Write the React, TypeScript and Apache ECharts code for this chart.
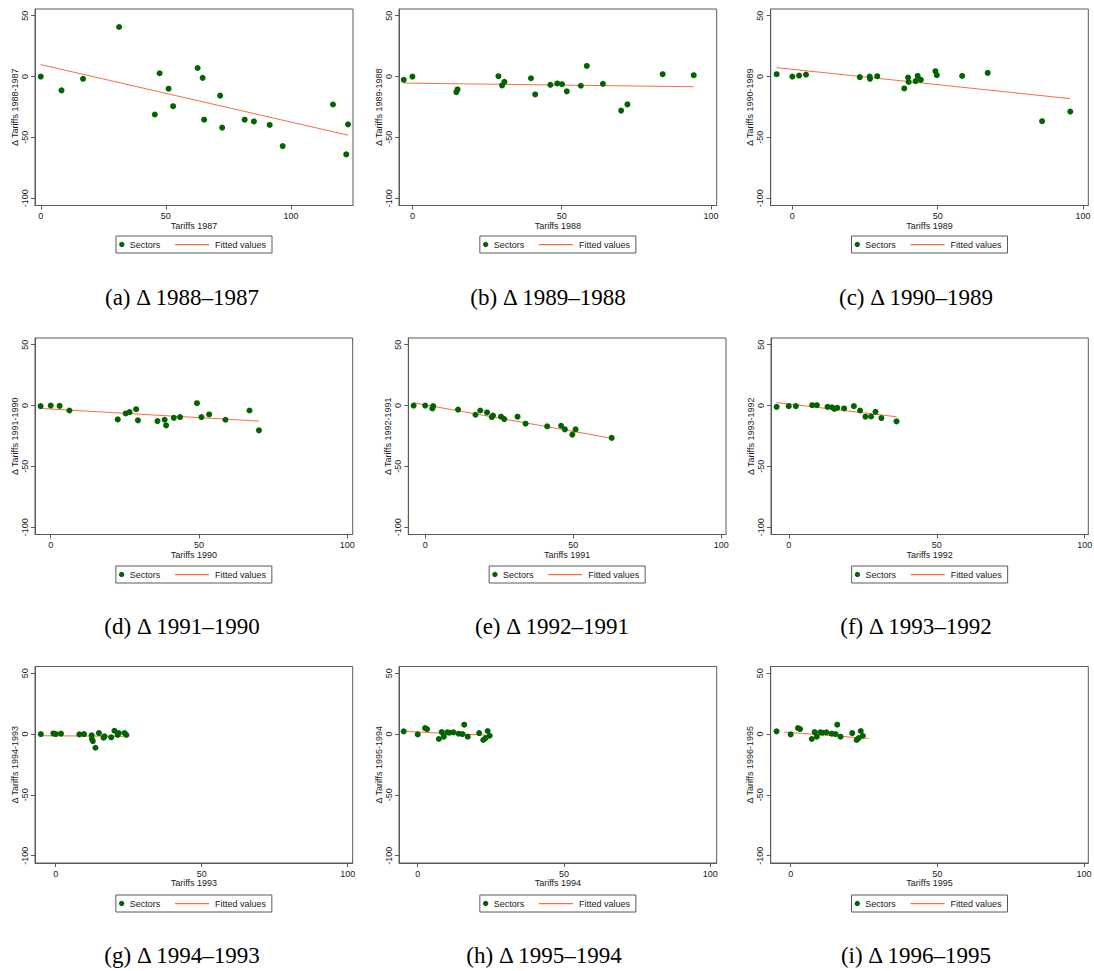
import React, { useEffect, useRef } from "react";
import * as echarts from "echarts";

// ---- tick labels ----
const xTicks = [0, 50, 100];
const yTicks = [-100, -50, 0, 50];

// ---- legend labels ----
const legendLabels = ["Sectors", "Fitted values"];

// ---- (a) 1988-1987 ----
const tariffs1987 = [0, 8.3, 16.9, 31.3, 45.6, 47.5, 51.1, 52.9, 62.7, 64.7, 65.3, 71.7, 72.5, 81.5, 85.2, 91.5, 96.7, 116.8, 122.1, 122.8];
const delta1988 = [0, -11.4, -1.9, 40.7, -31.2, 2.7, -10.0, -24.4, 7.0, -1.1, -35.5, -15.7, -42.0, -35.5, -36.9, -39.8, -57.2, -23.0, -64.0, -39.3];
const fitX1988 = [0, 122.8];
const fitY1988 = [9.8, -48.2];

// ---- (b) 1989-1988 ----
const tariffs1988 = [-2.9, 0, 14.7, 15.1, 28.8, 30.0, 30.8, 39.7, 41.1, 46.2, 48.5, 50.1, 51.7, 56.4, 58.4, 63.8, 69.9, 72.0, 83.8, 94.2];
const delta1989 = [-2.7, 0, -12.8, -10.6, 0.3, -7.3, -4.4, -1.4, -14.7, -6.8, -5.7, -6.3, -12.2, -7.6, 8.7, -6.0, -28.0, -22.9, 1.9, 1.1];
const fitX1989 = [-2.9, 94.2];
const fitY1989 = [-5.4, -8.4];

// ---- (c) 1990-1989 ----
const tariffs1989 = [-5.4, 0, 2.3, 4.7, 23.2, 26.6, 26.7, 29.2, 38.5, 39.8, 40.0, 42.4, 43.1, 44.2, 49.2, 49.7, 58.4, 67.2, 85.9, 95.6];
const delta1990 = [1.9, 0, 0.8, 1.6, -0.5, 0, -1.9, 0.3, -9.8, -0.8, -4.4, -3.8, 0.5, -2.7, 4.4, 1.1, 0.5, 3.0, -36.7, -28.8];
const fitX1990 = [-5.4, 95.6];
const fitY1990 = [7.3, -18.2];

// ---- (d) 1991-1990 ----
const tariffs1990 = [-3.4, 0, 3.0, 6.3, 22.6, 25.3, 26.6, 28.8, 29.4, 36.0, 38.4, 38.9, 41.5, 43.6, 49.3, 50.8, 53.4, 58.9, 67.0, 70.2];
const delta1991 = [-0.5, 0, -0.3, -4.1, -11.4, -6.5, -5.4, -3.0, -12.2, -12.8, -11.7, -16.3, -10.1, -9.5, 1.9, -9.5, -7.3, -11.7, -4.1, -20.4];
const fitX1991 = [-3.4, 70.2];
const fitY1991 = [-2.4, -12.8];

// ---- (e) 1992-1991 ----
const tariffs1991 = [-3.9, 0, 2.4, 2.7, 11.1, 17.0, 18.6, 20.9, 22.5, 22.9, 25.6, 26.7, 31.2, 33.9, 41.2, 45.9, 47.2, 49.7, 50.8, 63.0];
const delta1992 = [0, 0, -2.4, -0.5, -3.3, -7.6, -4.1, -5.7, -9.5, -8.2, -9.2, -11.1, -9.2, -14.9, -17.1, -16.6, -19.6, -23.9, -19.6, -26.6];
const fitX1992 = [-3.9, 63.0];
const fitY1992 = [2.2, -26.9];

// ---- (f) 1993-1992 ----
const tariffs1992 = [-4.1, 0, 2.4, 7.9, 9.5, 13.1, 14.6, 15.4, 16.4, 18.7, 22.0, 24.1, 25.9, 27.8, 29.3, 31.3, 36.4];
const delta1993 = [-1.1, -0.5, -0.5, 0.3, 0.3, -1.1, -1.4, -2.7, -1.9, -2.4, -0.5, -4.1, -9.2, -9.0, -5.2, -10.3, -13.0];
const fitX1993 = [-4.1, 36.4];
const fitY1993 = [2.4, -9.2];

// ---- (g) 1994-1993 ----
const tariffs1993 = [-5.1, -0.8, 0, 1.8, 8.1, 9.7, 12.3, 12.4, 12.7, 13.6, 14.8, 16.4, 16.7, 19.0, 20.1, 21.2, 21.6, 23.6, 24.2];
const delta1994 = [0, 0.5, 0, 0.3, -0.3, 0, -1.1, -4.1, -5.8, -11.3, 0.8, -3.0, -1.9, -2.7, 2.7, -0.8, 0.8, 0.8, -0.8];
const fitX1994 = [-5.1, 24.2];
const fitY1994 = [-1.4, -1.9];

// ---- (h) 1995-1994 ----
const tariffs1994 = [-4.8, 0, 2.5, 3.2, 7.2, 8.2, 8.9, 10.1, 10.8, 12.2, 14.0, 15.3, 15.9, 17.1, 21.0, 22.4, 23.2, 23.9, 24.6];
const delta1995 = [2.2, -0.3, 4.9, 4.1, -4.1, 1.6, -2.2, 1.4, 1.1, 1.4, 0.3, 0, 7.7, -2.2, 0.8, -4.9, -3.3, 2.5, -1.4];
const fitX1995 = [-4.8, 24.6];
const fitY1995 = [2.2, -1.1];

// ---- (i) 1996-1995 ----
const tariffs1995 = [-4.8, 0, 2.5, 3.2, 7.2, 8.2, 8.9, 10.1, 10.8, 12.2, 14.0, 15.3, 15.9, 17.0, 21.0, 22.5, 23.2, 23.9, 24.6];
const delta1996 = [2.2, -0.3, 4.9, 4.1, -4.1, 1.6, -2.2, 1.4, 1.1, 1.4, 0.3, 0, 7.7, -2.2, 0.8, -4.9, -3.3, 2.5, -1.4];
const fitX1996 = [-2.2, 26.5];
const fitY1996 = [1.6, -3.6];

const GREEN = "#006400";
const ORANGE = "#FF6B3D";
const FRAME = "#5a5a5a";
const TEXT = "#1a1a1a";
const SANS = "Liberation Sans, Arial, sans-serif";
const SERIF = "Liberation Serif, Times New Roman, serif";

const Y_MIN = -106;
const Y_MAX = 55.5;

const rowTop = [9, 338, 666.5];
const boxH = 196.5;
const legendTop = [236, 566, 895];
const captionY = [297, 626, 955];

const panels = [
  { x: tariffs1987, y: delta1988, fx: fitX1988, fy: fitY1988, xt: "Tariffs 1987", yt: "Δ Tariffs 1988-1987", cap: "(a) Δ 1988–1987", row: 0, left: 35, right: 353, xmin: -2.3, xmax: 124.8, capX: 182 },
  { x: tariffs1988, y: delta1989, fx: fitX1989, fy: fitY1989, xt: "Tariffs 1988", yt: "Δ Tariffs 1989-1988", cap: "(b) Δ 1989–1988", row: 0, left: 399, right: 716.7, xmin: -4.5, xmax: 101.9, capX: 548 },
  { x: tariffs1989, y: delta1990, fx: fitX1990, fy: fitY1990, xt: "Tariffs 1989", yt: "Δ Tariffs 1990-1989", cap: "(c) Δ 1990–1989", row: 0, left: 770.7, right: 1088.3, xmin: -7.45, xmax: 101.8, capX: 916 },
  { x: tariffs1990, y: delta1991, fx: fitX1991, fy: fitY1991, xt: "Tariffs 1990", yt: "Δ Tariffs 1991-1990", cap: "(d) Δ 1991–1990", row: 1, left: 35, right: 352.7, xmin: -5.3, xmax: 101.8, capX: 182 },
  { x: tariffs1991, y: delta1992, fx: fitX1992, fy: fitY1992, xt: "Tariffs 1991", yt: "Δ Tariffs 1992-1991", cap: "(e) Δ 1992–1991", row: 1, left: 408.3, right: 726, xmin: -5.7, xmax: 101.6, capX: 552 },
  { x: tariffs1992, y: delta1993, fx: fitX1993, fy: fitY1993, xt: "Tariffs 1992", yt: "Δ Tariffs 1993-1992", cap: "(f) Δ 1993–1992", row: 1, left: 771, right: 1088.3, xmin: -6.0, xmax: 101.2, capX: 916 },
  { x: tariffs1993, y: delta1994, fx: fitX1994, fy: fitY1994, xt: "Tariffs 1993", yt: "Δ Tariffs 1994-1993", cap: "(g) Δ 1994–1993", row: 2, left: 35, right: 352.7, xmin: -7.1, xmax: 101.7, capX: 182 },
  { x: tariffs1994, y: delta1995, fx: fitX1995, fy: fitY1995, xt: "Tariffs 1994", yt: "Δ Tariffs 1995-1994", cap: "(h) Δ 1995–1994", row: 2, left: 399, right: 716.7, xmin: -6.4, xmax: 102.2, capX: 544 },
  { x: tariffs1995, y: delta1996, fx: fitX1996, fy: fitY1996, xt: "Tariffs 1995", yt: "Δ Tariffs 1996-1995", cap: "(i) Δ 1996–1995", row: 2, left: 770.7, right: 1088.3, xmin: -6.8, xmax: 101.5, capX: 916 },
];

function buildOption() {
  const grid: any[] = [];
  const xAxis: any[] = [];
  const yAxis: any[] = [];
  const series: any[] = [];
  const graphic: any[] = [];

  panels.forEach((p, i) => {
    const top = rowTop[p.row];
    grid.push({
      left: p.left,
      top,
      width: p.right - p.left,
      height: boxH,
      show: true,
      borderColor: FRAME,
      borderWidth: 1,
      backgroundColor: "#ffffff",
      containLabel: false,
      outerBoundsMode: "none",
    });
    xAxis.push({
      type: "value",
      gridIndex: i,
      min: p.xmin,
      max: p.xmax,
      splitLine: { show: false },
      axisLine: { show: true, onZero: false, lineStyle: { color: FRAME, width: 1 } },
      axisTick: { show: true, length: 4, customValues: xTicks, lineStyle: { color: FRAME } },
      axisLabel: { customValues: xTicks, fontSize: 9, color: TEXT, fontFamily: SANS, margin: 6 },
      name: p.xt,
      nameLocation: "middle",
      nameGap: 15,
      nameTextStyle: { fontSize: 9, color: TEXT, fontFamily: SANS },
    });
    yAxis.push({
      type: "value",
      gridIndex: i,
      min: Y_MIN,
      max: Y_MAX,
      splitLine: { show: false },
      axisLine: { show: true, onZero: false, lineStyle: { color: FRAME, width: 1 } },
      axisTick: { show: true, length: 4, customValues: yTicks, lineStyle: { color: FRAME } },
      axisLabel: { customValues: yTicks, rotate: 90, fontSize: 9, color: TEXT, fontFamily: SANS, margin: 6 },
      name: p.yt,
      nameLocation: "middle",
      nameRotate: 90,
      nameGap: 16,
      nameTextStyle: { fontSize: 9, color: TEXT, fontFamily: SANS },
    });
    series.push({
      type: "scatter",
      name: legendLabels[0],
      xAxisIndex: i,
      yAxisIndex: i,
      symbol: "circle",
      symbolSize: 6,
      itemStyle: { color: GREEN, opacity: 1 },
      data: p.x.map((v, k) => [v, p.y[k]]),
      z: 3,
    });
    series.push({
      type: "line",
      name: legendLabels[1],
      xAxisIndex: i,
      yAxisIndex: i,
      symbol: "none",
      lineStyle: { color: ORANGE, width: 1 },
      data: p.fx.map((v, k) => [v, p.fy[k]]),
      z: 2,
    });

    // legend box (Stata style)
    const cx = (p.left + p.right) / 2;
    const lt = legendTop[p.row];
    graphic.push({
      type: "group",
      children: [
        { type: "rect", shape: { x: cx - 78, y: lt, width: 156, height: 17 }, style: { fill: "#fff", stroke: FRAME, lineWidth: 1 } },
        { type: "circle", shape: { cx: cx - 72.2, cy: lt + 8.5, r: 2.7 }, style: { fill: GREEN } },
        { type: "text", x: cx - 64.2, y: lt + 8.5, style: { text: legendLabels[0], fontSize: 9, fontFamily: SANS, fill: TEXT, verticalAlign: "middle", align: "left" } },
        { type: "rect", shape: { x: cx - 18.9, y: lt + 8, width: 34, height: 1.2 }, style: { fill: ORANGE, stroke: null } },
        { type: "text", x: cx + 21.1, y: lt + 8.5, style: { text: legendLabels[1], fontSize: 9, fontFamily: SANS, fill: TEXT, verticalAlign: "middle", align: "left" } },
      ],
    });
    // caption
    graphic.push({
      type: "text",
      x: p.capX,
      y: captionY[p.row],
      style: { text: p.cap, fontSize: 23, fontFamily: SERIF, fill: "#000", align: "center", verticalAlign: "middle" },
    });
  });

  return {
    animation: false,
    backgroundColor: "#ffffff",
    grid,
    xAxis,
    yAxis,
    series,
    graphic,
  };
}

export default function App() {
  const ref = useRef<HTMLDivElement>(null);
  useEffect(() => {
    if (!ref.current) return;
    const chart = echarts.init(ref.current, null, { renderer: "svg" });
    chart.setOption(buildOption() as any);
    return () => chart.dispose();
  }, []);
  return (
    <div
      ref={ref}
      style={{ position: "fixed", left: 0, top: 0, width: 1094, height: 971, background: "#fff" }}
    />
  );
}
